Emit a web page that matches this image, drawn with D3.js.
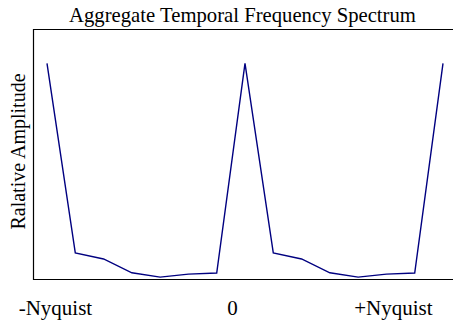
<!DOCTYPE html>
<html><head><meta charset="utf-8">
<script src="https://cdn.jsdelivr.net/npm/d3@7"></script>
<style>body{margin:0;background:#fff}svg{display:block}</style>
</head><body><svg id="c" width="453" height="320"></svg>
<script>
const bins = d3.range(15);
const amplitude = [1.0, 0.123, 0.095, 0.031, 0.011, 0.025, 0.030, 1.0, 0.123, 0.095, 0.031, 0.011, 0.025, 0.030, 1.0];
const tickPos = [0.28, 6.54, 12.23];
const tickLabels = ["-Nyquist", "0", "+Nyquist"];
const title = "Aggregate Temporal Frequency Spectrum";
const yLabel = "Ralative Amplitude";

const svg = d3.select("#c");
const L = 33.5, T = 29.5, R = 454, B = 279.5;
const x = d3.scaleLinear().domain([0, 14]).range([47, 443]);
const y = d3.scaleLinear().domain([0, 1.157]).range([B, T]);
const font = "'Liberation Serif','Times New Roman',serif";

svg.append("path")
  .attr("d", `M${R},${T}H${L}V${B}H${R}`)
  .attr("fill", "none").attr("stroke", "#000").attr("stroke-width", 1.2);

svg.append("path").datum(bins)
  .attr("fill", "none").attr("stroke", "#000080").attr("stroke-width", 1.4)
  .attr("stroke-linejoin", "miter")
  .attr("d", d3.line().x(i => x(i)).y(i => y(amplitude[i])));

const xAxis = d3.axisBottom(x).tickValues(tickPos).tickFormat((d, i) => tickLabels[i]).tickSize(0);
const gx = svg.append("g").attr("transform", `translate(0,${B})`).call(xAxis);
gx.select(".domain").remove();
gx.selectAll("text").attr("font-family", font).attr("font-size", 21).attr("fill", "#000")
  .attr("dy", null).attr("y", 35.5);

svg.append("text").attr("x", 242.5).attr("y", 21.5).attr("text-anchor", "middle")
  .attr("font-family", font).attr("font-size", 20.7).attr("fill", "#000").text(title);

svg.append("text").attr("transform", "translate(25,151.5) rotate(-90)").attr("text-anchor", "middle")
  .attr("font-family", font).attr("font-size", 20).attr("fill", "#000").text(yLabel);
</script></body></html>
